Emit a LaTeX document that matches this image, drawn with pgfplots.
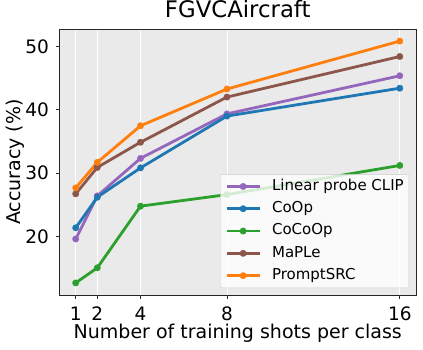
\documentclass[border=0pt]{standalone}
\usepackage{fontspec}
\setmainfont{DejaVu Sans}
\usepackage{pgfplots}
\pgfplotsset{compat=1.18}
\usetikzlibrary{calc}
\definecolor{tabpurple}{HTML}{9467BD}
\definecolor{tabblue}{HTML}{1F77B4}
\definecolor{tabgreen}{HTML}{2CA02C}
\definecolor{tabbrown}{HTML}{8C564B}
\definecolor{taborange}{HTML}{FF7F0E}
\definecolor{panel}{RGB}{234,234,234}

\pgfplotsset{
  ser/.style={color=#1, line width=2.8pt, line join=round, mark=*, mark size=3.2pt,
    mark options={solid, fill=#1, draw=#1, line width=0.4pt}},
}

\begin{document}
\begin{tikzpicture}
\begin{axis}[
  name=ax,
  scale only axis,
  width=356.5pt, height=266pt,
  xmin=0.25, xmax=16.75,
  ymin=10.77, ymax=52.74,
  xtick={1,2,4,8,16},
  ytick={20,30,40,50},
  tick align=outside,
  tick pos=left,
  major tick length=3.5pt,
  tick style={black!85, line width=0.8pt},
  axis line style={black!85, line width=0.8pt},
  axis background/.style={fill=panel},
  xmajorgrids=true,
  grid style={white, line width=0.8pt},
  /pgf/number format/assume math mode=true,
  tick label style={font=\fontsize{18.5}{20}\selectfont},
  xticklabel style={anchor=base, yshift=-22pt},
  yticklabel style={anchor=east, inner sep=0pt, xshift=-7pt},
  title={FGVCAircraft},
  title style={at={(axis description cs:0.5,1)}, anchor=base, yshift=5.5pt,
    font=\fontsize{22.8}{26}\selectfont},
  xlabel={Number of training shots per class},
  xlabel style={at={(axis description cs:0.5,0)}, anchor=base, yshift=-43.3pt,
    font=\fontsize{19}{22}\selectfont},
  ylabel={Accuracy (\%)},
  ylabel style={at={(axis description cs:-0.11,0.5)}, anchor=base,
    font=\fontsize{19}{22}\selectfont},
  legend cell align=left,
  legend image code/.code={
    \draw[#1, fill opacity=1, draw opacity=1, mark repeat=2, mark phase=2]
      plot coordinates {(0pt,0pt) (16.5pt,0pt) (33pt,0pt)};
  },
  legend style={
    at={(axis description cs:1,0)}, anchor=south east,
    xshift=-7pt, yshift=7pt,
    fill=white, fill opacity=0.8, text opacity=1, draw=black!20,
    rounded corners=2pt,
    font=\fontsize{15}{18}\selectfont,
    inner xsep=5pt, inner ysep=1pt,
    column sep=11pt, row sep=0pt,
    nodes={inner xsep=0pt, inner ysep=3.9pt, text height=11pt, text depth=3.5pt},
  },
]
\addplot[ser=tabpurple] coordinates {(1,19.61) (2,26.41) (4,32.33) (8,39.35) (16,45.36)};
\addlegendentry{Linear probe CLIP}
\addplot[ser=tabblue] coordinates {(1,21.37) (2,26.20) (4,30.83) (8,39.00) (16,43.40)};
\addlegendentry{CoOp}
\addplot[ser=tabgreen] coordinates {(1,12.68) (2,15.06) (4,24.79) (8,26.61) (16,31.21)};
\addlegendentry{CoCoOp}
\addplot[ser=tabbrown] coordinates {(1,26.73) (2,30.90) (4,34.87) (8,42.00) (16,48.40)};
\addlegendentry{MaPLe}
\addplot[ser=taborange] coordinates {(1,27.67) (2,31.70) (4,37.47) (8,43.27) (16,50.83)};
\addlegendentry{PromptSRC}
\end{axis}
\pgfresetboundingbox
\path[use as bounding box] ($(ax.south west)+(-59.5pt,-54pt)$) rectangle ($(ax.north east)+(7pt,29pt)$);
\end{tikzpicture}
\end{document}
